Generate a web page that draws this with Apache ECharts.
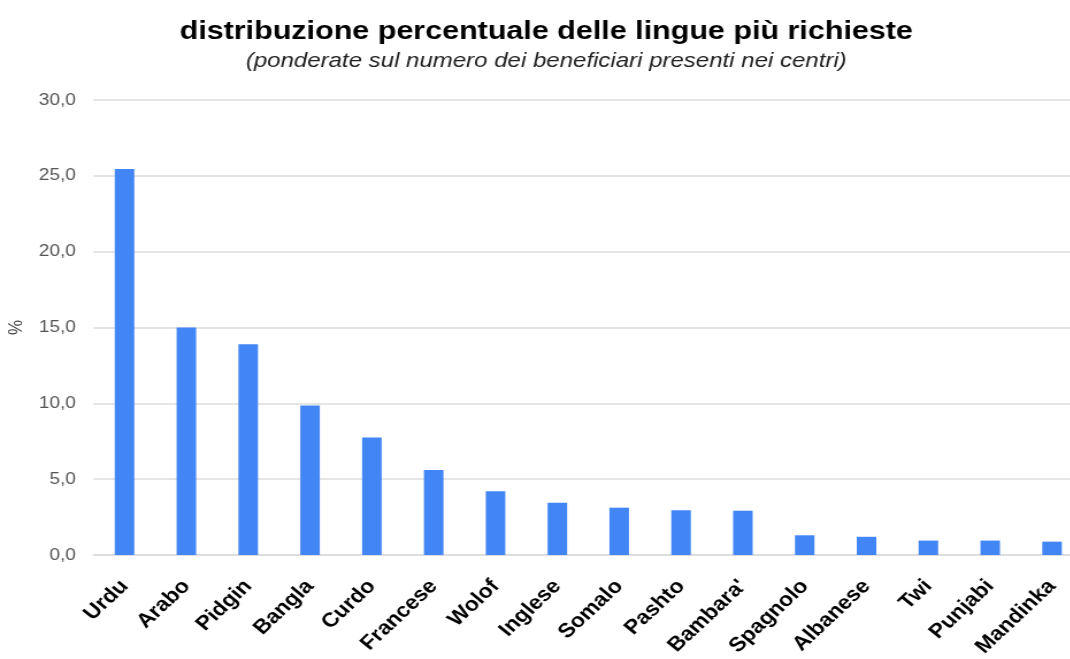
<!DOCTYPE html>
<html><head><meta charset="utf-8">
<script src="https://cdn.jsdelivr.net/npm/echarts@6/dist/echarts.min.js"></script>
<style>html,body{margin:0;padding:0;background:#fff;overflow:hidden;width:1070px;height:659px}
#c{width:960px;height:659px;transform:scaleX(1.15);transform-origin:0 0}</style>
</head><body><div id="c"></div>
<script>
const categories = ["Urdu","Arabo","Pidgin","Bangla","Curdo","Francese","Wolof","Inglese","Somalo","Pashto","Bambara'","Spagnolo","Albanese","Twi","Punjabi","Mandinka"];
const values = [25.45, 15.0, 13.9, 9.85, 7.75, 5.6, 4.2, 3.45, 3.12, 2.95, 2.92, 1.3, 1.2, 0.95, 0.95, 0.88];
const titleText = "distribuzione percentuale delle lingue più richieste";
const subtitleText = "(ponderate sul numero dei beneficiari presenti nei centri)";
const yName = "%";

const chart = echarts.init(document.getElementById('c'), null, {renderer:'canvas'});
chart.setOption({
  animation:false,
  title:{
    text:titleText, subtext:subtitleText, left:470, textAlign:'center', top:13, itemGap:6,
    textStyle:{fontFamily:'Liberation Sans, Arial',fontWeight:'bold',fontSize:26.5,color:'#000'},
    subtextStyle:{fontFamily:'Liberation Sans, Arial',fontStyle:'italic',fontSize:20.9,color:'#222'}
  },
  grid:{left:81.4, top:100, width:860.3, height:455, containLabel:false, outerBoundsMode:'none'},
  xAxis:{
    type:'category', data:categories,
    axisLine:{lineStyle:{color:'#dddddd',width:2}},
    axisTick:{show:false},
    axisLabel:{rotate:47, margin:28, interval:0, color:'#000', fontWeight:'bold', fontSize:20, fontFamily:'Liberation Sans, Arial'}
  },
  yAxis:{
    type:'value', min:0, max:30, interval:5,
    name:yName, nameLocation:'middle', nameGap:57, nameRotate:90,
    nameTextStyle:{color:'#444', fontSize:17, fontFamily:'Liberation Sans, Arial'},
    axisLine:{show:false}, axisTick:{show:false},
    splitLine:{lineStyle:{color:'#dddddd',width:1.5}},
    axisLabel:{margin:15.5, color:'#555', fontSize:16.5, fontFamily:'Liberation Sans, Arial',
      formatter:v=>v.toFixed(1).replace('.',',')}
  },
  series:[{type:'bar', data:values, barWidth:17, itemStyle:{color:'#4285f4'}}]
});
</script></body></html>
